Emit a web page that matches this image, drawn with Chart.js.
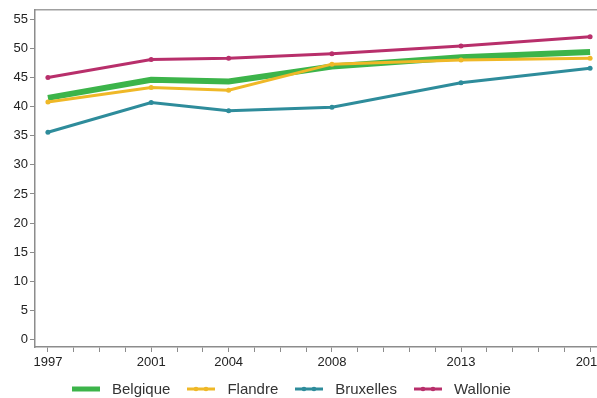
<!DOCTYPE html>
<html>
<head>
<meta charset="utf-8">
<script src="https://cdn.jsdelivr.net/npm/chart.js@4"></script>
<style>
  html, body { margin: 0; padding: 0; background: #fff; overflow: hidden; width: 597px; height: 398px; }
  #wrap { position: relative; width: 620px; height: 398px; }
  #legend { position: absolute; left: 72px; top: 380px; display: flex; align-items: center;
            font-family: "Liberation Sans", Arial, sans-serif; font-size: 15px; color: #333; line-height: 18px; }
  .item { display: flex; align-items: center; margin-right: 17px; }
  .item svg { margin-right: 12px; }
</style>
</head>
<body>
<div id="wrap">
  <canvas id="c" width="620" height="398"></canvas>
  <div id="legend"></div>
</div>
<script>
// Survey years and the share (%) for each region
const years = [1997, 2001, 2004, 2008, 2013, 2018];
const labeledYears = [1997, 2001, 2004, 2008, 2013, 2018];
const yTicks = [0, 5, 10, 15, 20, 25, 30, 35, 40, 45, 50, 55];

const seriesNames = ['Belgique', 'Flandre', 'Bruxelles', 'Wallonie'];
const belgique  = [41.5, 44.6, 44.3, 46.9, 48.5, 49.4];
const flandre   = [40.8, 43.3, 42.8, 47.3, 48.0, 48.3];
const bruxelles = [35.6, 40.7, 39.3, 39.9, 44.1, 46.6];
const wallonie  = [45.0, 48.1, 48.3, 49.1, 50.4, 52.0];

const colors = ['#3cb44a', '#efb827', '#2e8c9b', '#b82f6b'];
const widths = [6, 3, 3, 3];
const radii = [0, 2.5, 2.5, 2.5];

const values = [belgique, flandre, bruxelles, wallonie];
const datasets = seriesNames.map((name, i) => ({
  label: name,
  data: years.map((yr, j) => ({ x: yr, y: values[i][j] })),
  borderColor: colors[i],
  backgroundColor: colors[i],
  borderWidth: widths[i],
  pointRadius: radii[i],
  pointHoverRadius: radii[i],
  pointBorderWidth: 0,
  tension: 0
}));
// Belgique sits underneath the regional lines
datasets[0].order = 4;
datasets[1].order = 3;
datasets[2].order = 2;
datasets[3].order = 1;

const axisGray = '#8c8c8c';
const tickFont = { family: '"Liberation Sans Narrow", "Liberation Sans", Arial, sans-serif', size: 13 };

new Chart(document.getElementById('c'), {
  type: 'line',
  data: { datasets },
  options: {
    responsive: false,
    animation: false,
    events: [],
    layout: { padding: { top: 10, right: 17, bottom: 25, left: 0 } },
    plugins: { legend: { display: false }, tooltip: { enabled: false } },
    scales: {
      x: {
        type: 'linear',
        position: 'bottom',
        min: 1996.5,
        max: 2018.5,
        afterBuildTicks: (s) => {
          const t = [];
          for (let yr = years[0]; yr <= years[years.length - 1]; yr++) t.push({ value: yr });
          s.ticks = t;
        },
        afterFit: (s) => { s.height = 26; },
        ticks: {
          autoSkip: false, maxRotation: 0, padding: 3, color: '#222', font: tickFont,
          callback: (v) => labeledYears.includes(v) ? String(v) : ''
        },
        grid: { drawOnChartArea: false, tickLength: 5, tickColor: axisGray, tickWidth: 1 },
        border: { color: axisGray, width: 1.5 }
      },
      xTop: {
        type: 'linear',
        position: 'top',
        min: 1996.5,
        max: 2018.5,
        afterFit: (s) => { s.height = 0; },
        ticks: { display: false },
        grid: { display: false },
        border: { display: true, color: '#a0a0a0', width: 1.5 }
      },
      y: {
        min: -1.3,
        max: 56.6,
        afterBuildTicks: (s) => { s.ticks = yTicks.map(v => ({ value: v })); },
        afterFit: (s) => { s.width = 35; },
        ticks: { padding: 2, color: '#222', font: tickFont },
        grid: { drawOnChartArea: false, tickLength: 5, tickColor: axisGray, tickWidth: 1 },
        border: { color: axisGray, width: 1.5 }
      }
    }
  }
});

// Legend below the plot
const legend = document.getElementById('legend');
seriesNames.forEach((name, i) => {
  const item = document.createElement('div');
  item.className = 'item';
  const h = widths[i] === 6 ? 5 : 3;
  let svg = `<svg width="28" height="10" viewBox="0 0 28 10"><line x1="0" y1="5" x2="28" y2="5" stroke="${colors[i]}" stroke-width="${h}"/>`;
  if (radii[i] > 0) {
    svg += `<circle cx="9" cy="5" r="2.3" fill="${colors[i]}"/><circle cx="19" cy="5" r="2.3" fill="${colors[i]}"/>`;
  }
  svg += '</svg>';
  item.innerHTML = svg + `<span>${name}</span>`;
  legend.appendChild(item);
});
</script>
</body>
</html>
